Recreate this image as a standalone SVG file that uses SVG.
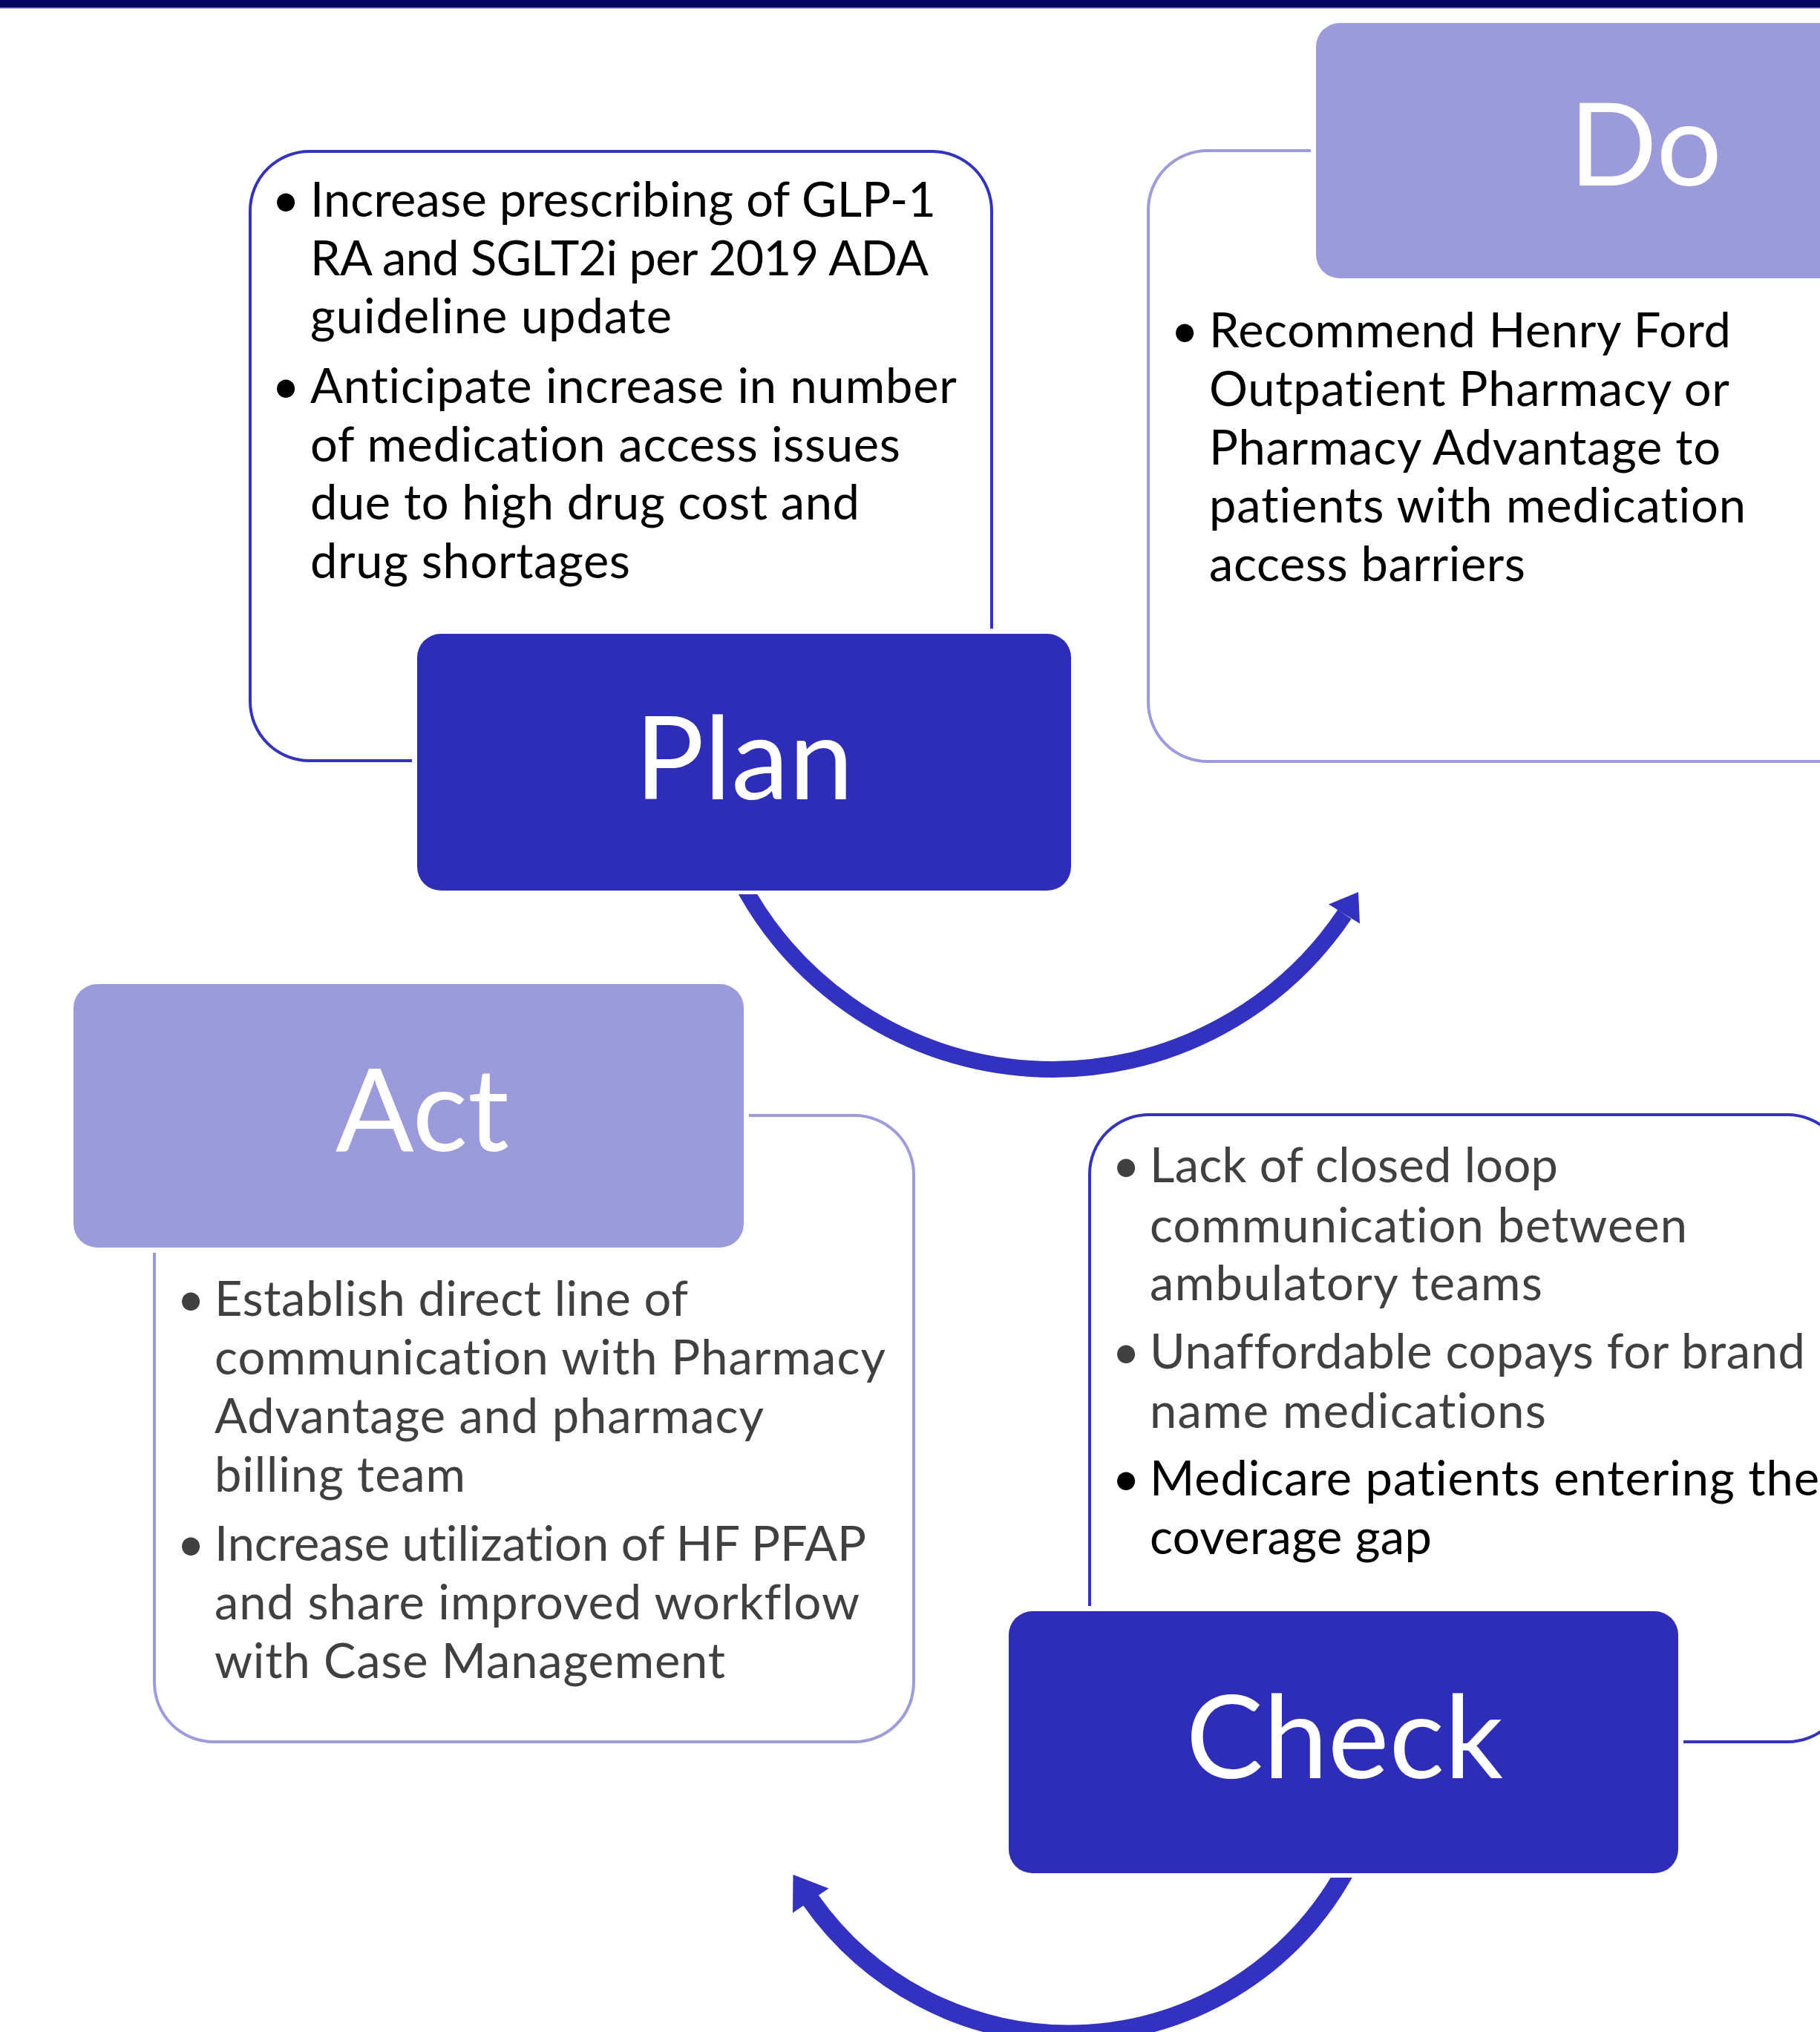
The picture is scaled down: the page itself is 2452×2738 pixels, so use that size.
<svg xmlns="http://www.w3.org/2000/svg" width="2452" height="2738" viewBox="0 0 2452 2738">
<style>
.bar{fill:#060660}
.barline{fill:#7474C4}
.ol-dk{fill:none;stroke:#3333BE;stroke-width:4}
.ol-lt{fill:none;stroke:#9C9CDC;stroke-width:4}
.halo{fill:#ffffff}
.box-dk{fill:#2E2DB7}
.box-lt{fill:#9B9BDB}
.title{font-family:Lato,"Liberation Sans",sans-serif;font-size:156px;fill:#ffffff;text-anchor:middle;font-variant-ligatures:none;font-feature-settings:"liga" 0}
.body{font-family:Lato,"Liberation Sans",sans-serif;font-size:65px;font-variant-ligatures:none;font-feature-settings:"liga" 0,"clig" 0,"dlig" 0}
.blk{fill:#000000}
.gry{fill:#404040}
.bul{text-anchor:middle}
.arc{fill:none;stroke:#3231C0}
.head{fill:#3231C0}
</style>
<defs>
<clipPath id="clip1"><rect x="900" y="1205" width="1000" height="300"/></clipPath>
<clipPath id="clip2"><rect x="1000" y="2530" width="900" height="260"/></clipPath>
</defs>
<rect class="bar" x="0" y="0" width="2452" height="10"/>
<rect class="barline" x="0" y="10" width="2452" height="1.5"/>

<g id="plan">
<rect class="ol-dk" x="337" y="204" width="999" height="821" rx="80" ry="80"/>
<rect class="halo" x="555" y="847" width="895" height="360" rx="38" ry="38"/>
<rect class="box-dk" x="562" y="854" width="881" height="346" rx="32" ry="32"/>
<text class="title" x="1002.5" y="1077">Plan</text>
<g class="body blk">
<text class="bul" x="385" y="292">•</text>
<text x="418" y="292" textLength="843">Increase prescribing of GLP-1</text>
<text x="418" y="371" textLength="833">RA and SGLT2i per 2019 ADA</text>
<text x="418" y="449" textLength="487">guideline update</text>
<text class="bul" x="385" y="543">•</text>
<text x="418" y="543" textLength="871">Anticipate increase in number</text>
<text x="418" y="622" textLength="795">of medication access issues</text>
<text x="418" y="700" textLength="740">due to high drug cost and</text>
<text x="418" y="779" textLength="431">drug shortages</text>
</g>
</g>

<g id="do">
<rect class="ol-lt" x="1547" y="203" width="999" height="823" rx="80" ry="80"/>
<rect class="halo" x="1766" y="24" width="895" height="358" rx="38" ry="38"/>
<rect class="box-lt" x="1773" y="31" width="881" height="344" rx="32" ry="32"/>
<text class="title" x="2217" y="250">Do</text>
<g class="body blk">
<text class="bul" x="1596" y="468">•</text>
<text x="1629" y="468" textLength="703">Recommend Henry Ford</text>
<text x="1629" y="547" textLength="701">Outpatient Pharmacy or</text>
<text x="1629" y="626" textLength="689">Pharmacy Advantage to</text>
<text x="1629" y="704" textLength="723">patients with medication</text>
<text x="1629" y="783" textLength="426">access barriers</text>
</g>
</g>

<g id="act">
<rect class="ol-lt" x="208" y="1503" width="1023" height="844" rx="80" ry="80"/>
<rect class="halo" x="92" y="1319" width="917" height="369" rx="38" ry="38"/>
<rect class="box-lt" x="99" y="1326" width="903" height="355" rx="32" ry="32"/>
<text class="title" x="569" y="1551">Act</text>
<g class="body gry">
<text class="bul" x="257" y="1773">•</text>
<text x="289" y="1773" textLength="638">Establish direct line of</text>
<text x="289" y="1852" textLength="904">communication with Pharmacy</text>
<text x="289" y="1931" textLength="740">Advantage and pharmacy</text>
<text x="289" y="2010" textLength="338">billing team</text>
<text class="bul" x="257" y="2103">•</text>
<text x="289" y="2103" textLength="878">Increase utilization of HF PFAP</text>
<text x="289" y="2182" textLength="869">and share improved workflow</text>
<text x="289" y="2261" textLength="688">with Case Management</text>
</g>
</g>

<g id="check">
<rect class="ol-dk" x="1468" y="1502" width="1020" height="845" rx="80" ry="80"/>
<rect class="halo" x="1352" y="2164" width="916" height="367" rx="38" ry="38"/>
<rect class="box-dk" x="1359" y="2171" width="902" height="353" rx="32" ry="32"/>
<text class="title" x="1811.5" y="2396">Check</text>
<g class="body gry">
<text class="bul" x="1517" y="1593">•</text>
<text x="1549" y="1593" textLength="550">Lack of closed loop</text>
<text x="1549" y="1674" textLength="724">communication between</text>
<text x="1549" y="1752" textLength="529">ambulatory teams</text>
<text class="bul" x="1517" y="1844">•</text>
<text x="1549" y="1844" textLength="883">Unaffordable copays for brand</text>
<text x="1549" y="1924" textLength="534">name medications</text>
</g>
<g class="body blk">
<text class="bul" x="1517" y="2015">•</text>
<text x="1549" y="2015" textLength="902">Medicare patients entering the</text>
<text x="1549" y="2094" textLength="380">coverage gap</text>
</g>
</g>

<g id="connectors">
<path class="arc" stroke-width="22" clip-path="url(#clip1)" d="M 994.8 1181.6 A 475 475 0 0 0 1811.5 1232"/>
<polygon class="head" points="1830,1202 1790,1218.5 1832,1244.5"/>
<path class="arc" stroke-width="25" clip-path="url(#clip2)" d="M 1815.3 2515.5 A 425 425 0 0 1 1092.3 2560.4"/>
<polygon class="head" points="1068.5,2526 1116.5,2544.5 1068,2577.5"/>
</g>
</svg>
